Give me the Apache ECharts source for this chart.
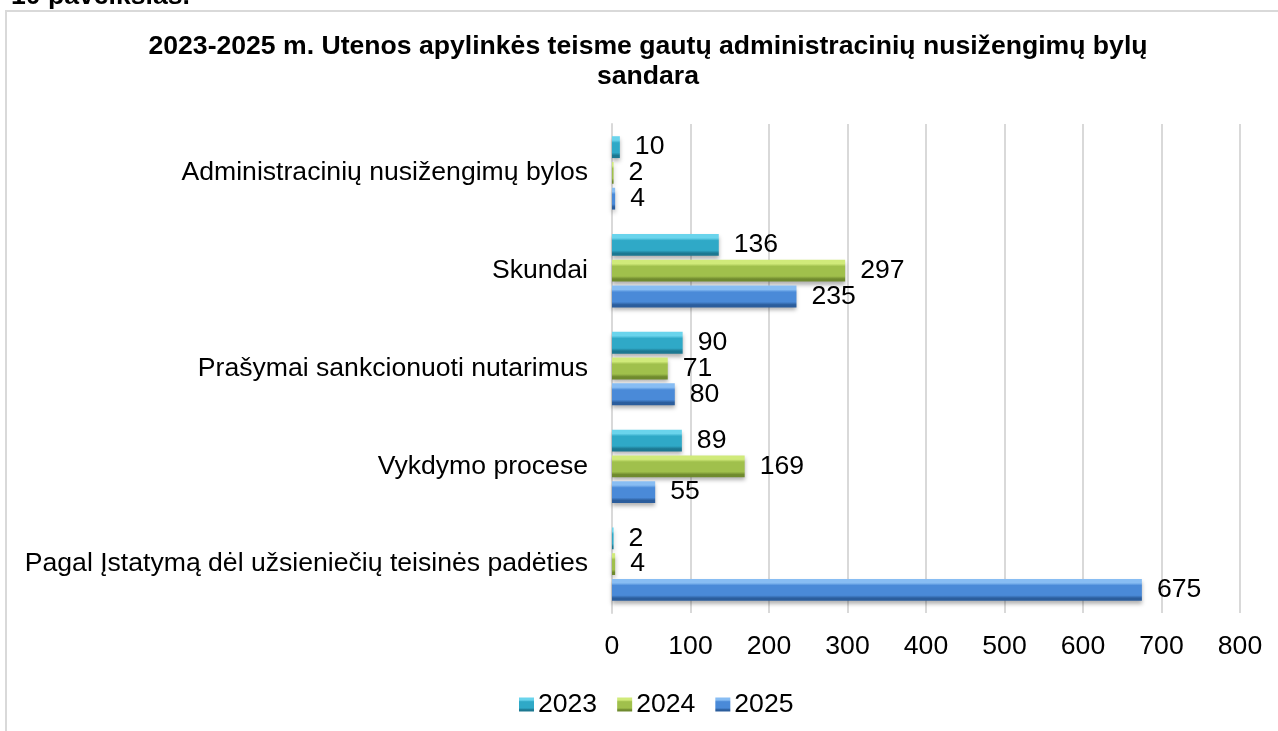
<!DOCTYPE html>
<html>
<head>
<meta charset="utf-8">
<title>Utenos apylinkės teismas</title>
<script src="https://cdn.jsdelivr.net/npm/echarts@6/dist/echarts.min.js"></script>
<style>
  html, body { margin: 0; padding: 0; background: #fff; }
  #chart { width: 1278px; height: 731px; }
</style>
</head>
<body>
<div id="chart"></div>
<script>
var categories = [
  'Administracinių nusižengimų bylos',
  'Skundai',
  'Prašymai sankcionuoti nutarimus',
  'Vykdymo procese',
  'Pagal Įstatymą dėl užsieniečių teisinės padėties'
];
var years = ['2023', '2024', '2025'];
var values2023 = [10, 136, 90, 89, 2];
var values2024 = [2, 297, 71, 169, 4];
var values2025 = [4, 235, 80, 55, 675];
var xMin = 0;
var xMax = 800;
var xStep = 100;

var font = '"Liberation Sans", Arial, sans-serif';
var fs = 26.6;

// bevel-ish look: light top edge, darker bottom edge
function bevel(light, mid, dark) {
  return {
    type: 'linear', x: 0, y: 0, x2: 0, y2: 1,
    colorStops: [
      { offset: 0, color: light },
      { offset: 0.18, color: light },
      { offset: 0.3, color: mid },
      { offset: 0.75, color: mid },
      { offset: 0.88, color: dark },
      { offset: 1, color: dark }
    ]
  };
}

var colors = [
  bevel('#6ad4ec', '#2fa9c7', '#1c7891'),
  bevel('#d0ea7a', '#a0c04c', '#6f8a2e'),
  bevel('#88bdf3', '#4a8ad8', '#2b5d9c')
];

function makeSeries(name, values, idx) {
  return {
    name: name,
    type: 'bar',
    data: values,
    barGap: '18%',
    barCategoryGap: '25%',
    itemStyle: {
      color: colors[idx],
      shadowBlur: 4,
      shadowOffsetY: 3,
      shadowColor: 'rgba(0,0,0,0.3)'
    },
    label: {
      show: true,
      position: 'right',
      distance: 15,
      color: '#000',
      fontSize: fs,
      fontFamily: font
    }
  };
}

var chart = echarts.init(document.getElementById('chart'));
chart.setOption({
  backgroundColor: '#fff',
  animation: false,
  textStyle: { fontFamily: font },
  title: {
    text: '2023-2025 m. Utenos apylinkės teisme gautų administracinių nusižengimų bylų\nsandara',
    left: 648,
    top: 32,
    padding: 0,
    textAlign: 'center',
    textStyle: {
      fontFamily: font,
      fontSize: fs,
      fontWeight: 'bold',
      color: '#000',
      lineHeight: 30
    }
  },
  graphic: [
    {
      type: 'rect',
      shape: { x: 6, y: 11, width: 1400, height: 1000 },
      style: { fill: 'none', stroke: '#d9d9d9', lineWidth: 2 },
      silent: true
    },
    {
      type: 'text',
      x: 11,
      y: -3,
      style: {
        text: '10 paveikslas.',
        font: 'bold 26.6px ' + font,
        fill: '#000',
        verticalAlign: 'middle'
      },
      silent: true
    }
  ],
  legend: {
    data: years,
    left: 514,
    top: 686,
    itemWidth: 15,
    itemHeight: 14,
    itemGap: 20,
    icon: 'rect',
    textStyle: { fontSize: fs, color: '#000', fontFamily: font, padding: [0, 0, 0, -1] }
  },
  grid: {
    left: 612,
    right: 38,
    top: 124,
    bottom: 118,
    containLabel: false
  },
  xAxis: {
    type: 'value',
    min: xMin,
    max: xMax,
    interval: xStep,
    axisLine: { show: false },
    axisTick: { show: false },
    axisLabel: { fontSize: fs, color: '#000', margin: 20, fontFamily: font },
    splitLine: { show: true, lineStyle: { color: '#d9d9d9', width: 2 } }
  },
  yAxis: {
    type: 'category',
    data: categories,
    inverse: true,
    axisLine: { show: true, lineStyle: { color: '#d9d9d9', width: 2 } },
    axisTick: { show: false },
    axisLabel: { fontSize: fs, color: '#000', margin: 24, fontFamily: font }
  },
  series: [
    makeSeries(years[0], values2023, 0),
    makeSeries(years[1], values2024, 1),
    makeSeries(years[2], values2025, 2)
  ]
});
</script>
</body>
</html>
